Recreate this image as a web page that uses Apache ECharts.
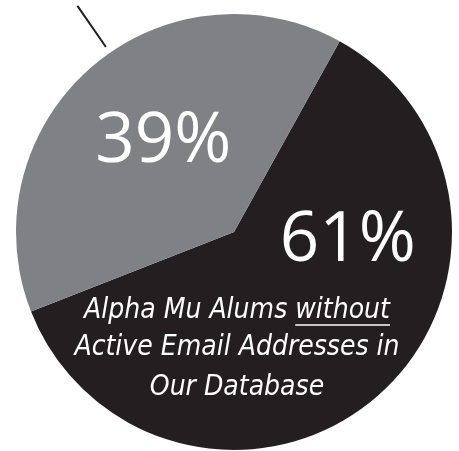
<!DOCTYPE html>
<html>
<head>
<meta charset="utf-8">
<script src="https://cdn.jsdelivr.net/npm/echarts@6/dist/echarts.min.js"></script>
<style>
	html, body { margin: 0; padding: 0; background: #fff; }
	#echartMain { width: 459px; height: 451px; }
</style>
</head>
<body>
<div id="echartMain"></div>
<script>
var sliceNames = ['Alumni without active email', 'Alumni with active email'];
var sliceValues = [61, 39];
var captionStart = 'Alpha Mu Alums ';
var captionUnderlined = 'without';
var captionRest = ['Active Email Addresses in', 'Our Database'];

(function(){

	init();

	function init(){
		initEchart();
	}

	//量文字宽度，用来摆下划线
	function measure(text, font){
		var ctx = document.createElement('canvas').getContext('2d');
		ctx.font = font;
		return ctx.measureText(text).width;
	}

	function initEchart(){
		var myChart = echarts.init(document.getElementById('echartMain'));
		var capFamily = '"DejaVu Sans Condensed", "DejaVu Sans"';
		var capSize = 28;
		var capFont = 'italic ' + capSize + 'px ' + capFamily;
		var ulWidth = measure(captionUnderlined, capFont);
		var firstWidth = measure(captionStart + captionUnderlined, capFont);
		var maxWidth = firstWidth;
		captionRest.forEach(function(s){
			maxWidth = Math.max(maxWidth, measure(s, capFont));
		});
		var spacer = Math.max((maxWidth - firstWidth) / 2, 0.01);

		var mainData = sliceNames.map(function(n, i){
			return { name : n , value : sliceValues[i] };
		});

		//第二层透明饼图，只负责说明文字和引线
		var overlayData = sliceNames.map(function(n, i){
			return { name : n , value : sliceValues[i] };
		});
		overlayData[0].label = {
			show : true ,
			position : 'center',
			offset : [3, 121],
			formatter : '{t1|' + captionStart + captionUnderlined + '}\n{ul| }{sp| }\n{t|' + captionRest.join('}\n{t|') + '}',
			rich : {
				t1 : { fontFamily : capFamily, fontStyle : 'italic', fontSize : capSize, color : '#fff', lineHeight : 24 },
				t : { fontFamily : capFamily, fontStyle : 'italic', fontSize : capSize, color : '#fff', lineHeight : 40 },
				ul : { width : ulWidth, height : 1.5, lineHeight : 5, backgroundColor : '#fff', align : 'right', fontSize : 4 },
				sp : { width : spacer, height : 1, lineHeight : 5, align : 'right', fontSize : 4 }
			}
		};
		overlayData[1].label = {
			show : true ,
			position : 'outside',
			formatter : ' ',
			color : 'rgba(0,0,0,0)'
		};
		overlayData[1].labelLine = {
			show : true ,
			length : 50 ,
			length2 : 0 ,
			lineStyle : { color : '#231f20', width : 2 }
		};

		var option = {
			animation : false ,
			color : ['#231f20', '#808184'],
			series : [
				{
					type : 'pie',
					center : [234, 232],
					radius : [0, 218],
					startAngle : 61,
					clockwise : true,
					silent : true,
					itemStyle : { borderWidth : 0 },
					label : {
						show : true ,
						position : 'inside',
						fontFamily : 'Open Sans',
						fontSize : 69 ,
						color : '#fff',
						formatter : function(p){ return p.value + '%'; }
					},
					labelLine : { show : false },
					data : mainData.map(function(d, i){
						d.label = { offset : i === 0 ? [40, -75] : [3, -5] };
						return d;
					})
				},
				{
					type : 'pie',
					center : [234, 232],
					radius : [0, 225],		//透明，稍大一点让引线离开饼边
					startAngle : 54.5,		//引线方向比扇区中线偏一点
					clockwise : true,
					silent : true,
					itemStyle : { color : 'rgba(0,0,0,0)', borderWidth : 0 },
					label : { show : false },
					labelLine : { show : false },
					data : overlayData
				}
			]
		};
		myChart.setOption(option);
	}

})();
</script>
</body>
</html>
